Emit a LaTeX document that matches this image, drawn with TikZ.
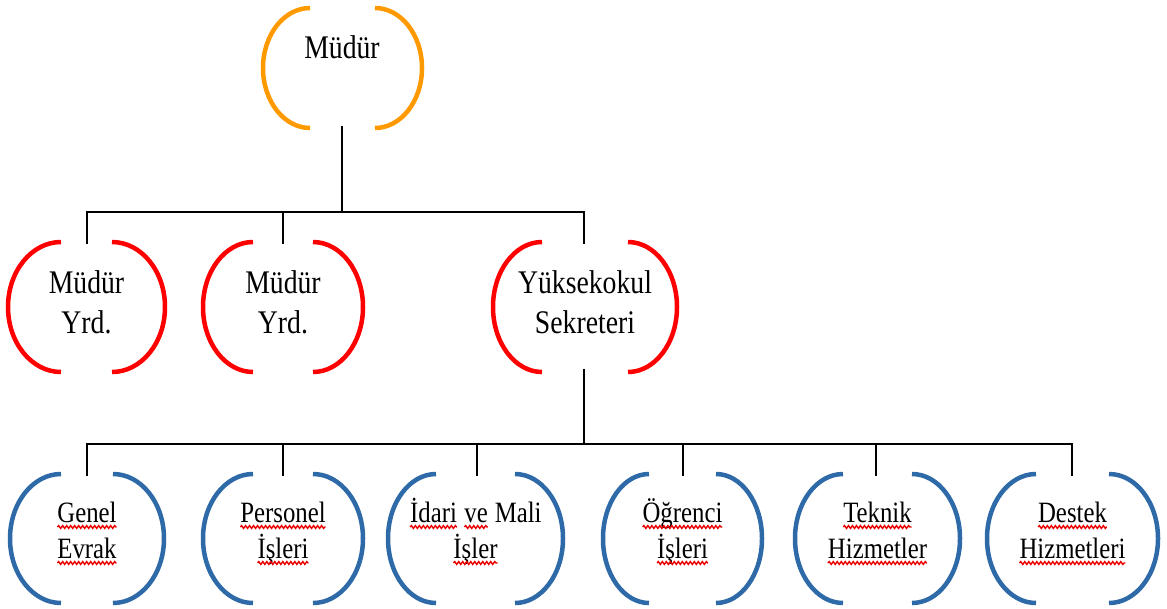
\documentclass[tikz,border=0pt]{standalone}
\usepackage{fontspec}
\setmainfont{Liberation Serif}[FakeStretch=0.84]
\usetikzlibrary{calc,decorations.pathmorphing}
\definecolor{cOrange}{RGB}{255,153,0}
\definecolor{cRed}{RGB}{255,0,0}
\definecolor{cBlue}{RGB}{46,106,168}
\definecolor{cWave}{RGB}{235,0,0}
\tikzset{
  boxnode/.style={draw=none,inner sep=0pt,outer sep=0pt},
  arcO/.style={draw=cOrange,line width=4.5pt},
  arcR/.style={draw=cRed,line width=4.5pt},
  arcB/.style={draw=cBlue,line width=4.5pt},
  conn/.style={draw=black,line width=1.8pt},
  lblbig/.style={inner sep=0pt,align=center,anchor=base,font=\fontsize{33pt}{40pt}\selectfont},
  lblsmall/.style={inner sep=0pt,align=center,anchor=base,font=\fontsize{29.5pt}{36pt}\selectfont},
  wavyline/.style={draw=cWave,line width=1.4pt,decorate,decoration={snake,amplitude=1.4pt,segment length=4pt}}
}
\newcommand\wv[1]{\tikz[baseline=(wvtmp.base)]{\node[draw=none,inner sep=0pt,outer sep=0pt,anchor=base](wvtmp) at (0,0){#1};\draw[wavyline]([yshift=-5pt]wvtmp.base west)--([yshift=-5pt]wvtmp.base east);}}
% #1 name, #2 x, #3 y, #4 width, #5 height, #6 rx, #7 style
\newcommand\bracketbox[7]{%
  \node[boxnode,minimum width=#4pt,minimum height=#5pt] (#1) at (#2,#3) {};
  \draw[#7] ($(#1.north west)+(#6pt,0pt)$) arc[start angle=90,end angle=270,x radius=#6pt,y radius=#5pt/2];
  \draw[#7] ($(#1.north east)-(#6pt,0pt)$) arc[start angle=90,end angle=-90,x radius=#6pt,y radius=#5pt/2];
}
\begin{document}
\begin{tikzpicture}[x=1pt,y=-1pt]
\useasboundingbox (0,0) rectangle (1167,608);
% row 1
\bracketbox{mudur}{342.5}{68}{159}{120}{47}{arcO}
% row 2
\bracketbox{yrd1}{86.5}{307}{157}{130}{53}{arcR}
\bracketbox{yrd2}{283}{307}{160}{130}{50}{arcR}
\bracketbox{sek}{585}{307}{184}{130}{49}{arcR}
% row 3
\bracketbox{genel}{87}{538.5}{154}{129}{51}{arcB}
\bracketbox{pers}{283}{538.5}{160}{129}{50}{arcB}
\bracketbox{idari}{475.5}{538.5}{175}{129}{48}{arcB}
\bracketbox{ogr}{682.5}{538.5}{159}{129}{46}{arcB}
\bracketbox{tek}{877.5}{538.5}{165}{129}{48}{arcB}
\bracketbox{des}{1072.5}{538.5}{171}{129}{49}{arcB}
% labels
\node[lblbig] (t-mudur) at (342,58) {Müdür};
\node[lblbig] (t-yrd1) at (86.5,333) {Müdür\\Yrd.};
\node[lblbig] (t-yrd2) at (283,333) {Müdür\\Yrd.};
\node[lblbig] (t-sek) at (585,333) {Yüksekokul\\Sekreteri};
\node[lblsmall] (t-genel) at (87,558) {\wv{Genel}\\\wv{Evrak}};
\node[lblsmall] (t-pers) at (283,558) {\wv{Personel}\\\wv{İşleri}};
\node[lblsmall] (t-idari) at (475.5,558) {\wv{İdari} \wv{ve} Mali\\\wv{İşler}};
\node[lblsmall] (t-ogr) at (682.5,558) {\wv{Öğrenci}\\\wv{İşleri}};
\node[lblsmall] (t-tek) at (877.5,558) {\wv{Teknik}\\\wv{Hizmetler}};
\node[lblsmall] (t-des) at (1072.5,558) {\wv{Destek}\\\wv{Hizmetleri}};
% connectors
\coordinate (bus1) at (342,212);
\coordinate (bus2) at (584,444);
\draw[conn] ([xshift=-0.5pt,yshift=2pt]mudur.south) -- (bus1);
\draw[conn] ([xshift=0.5pt,yshift=-2pt]yrd1.north) |- (bus1);
\draw[conn] ([yshift=-2pt]yrd2.north) |- (bus1);
\draw[conn] ([xshift=-1pt,yshift=-2pt]sek.north) |- (bus1);
\draw[conn] ([xshift=-1pt,yshift=3pt]sek.south) -- (bus2);
\draw[conn] ([yshift=-2pt]genel.north) |- (bus2);
\draw[conn] ([yshift=-2pt]pers.north) |- (bus2);
\draw[conn] ([xshift=1.5pt,yshift=-2pt]idari.north) |- (bus2);
\draw[conn] ([xshift=0.5pt,yshift=-2pt]ogr.north) |- (bus2);
\draw[conn] ([xshift=-1.5pt,yshift=-2pt]tek.north) |- (bus2);
\draw[conn] ([xshift=-0.5pt,yshift=-2pt]des.north) |- (bus2);
\end{tikzpicture}
\end{document}
